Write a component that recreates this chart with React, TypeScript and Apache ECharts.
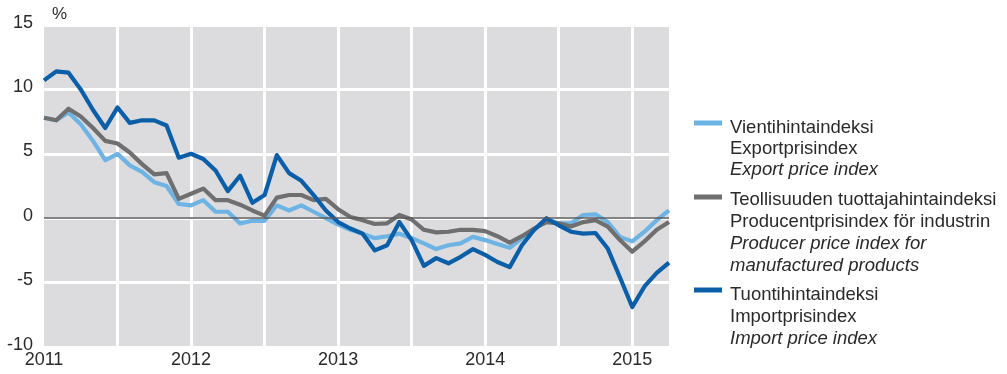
import React, { useEffect, useRef } from "react";
import * as echarts from "echarts";

const years = [2011, 2012, 2013, 2014, 2015];
const monthsPerYear = 12;
const lastYearMonths = 4;

const exportIdx = [
  7.8, 7.6, 8.2, 7.3, 6.0, 4.5, 5.0, 4.1, 3.6, 2.8, 2.5, 1.1,
  1.0, 1.4, 0.5, 0.5, -0.4, -0.2, -0.2, 1.0, 0.6, 1.0, 0.5, 0.0,
  -0.5, -0.9, -1.2, -1.55, -1.4, -1.2, -1.55, -1.95, -2.4, -2.1, -1.95, -1.45,
  -1.7, -2.0, -2.3, -1.55, -0.9, -0.1, -0.4, -0.4, 0.25, 0.3, -0.3, -1.45,
  -1.8, -1.05, -0.15, 0.6,
];
const producerIdx = [
  7.8, 7.6, 8.5, 7.9, 7.0, 6.0, 5.8, 5.1, 4.2, 3.4, 3.5, 1.5,
  1.9, 2.3, 1.4, 1.4, 1.05, 0.6, 0.2, 1.6, 1.8, 1.8, 1.4, 1.5,
  0.7, 0.1, -0.15, -0.45, -0.4, 0.25, -0.1, -0.9, -1.1, -1.05, -0.9, -0.9,
  -1.0, -1.4, -1.9, -1.4, -0.8, -0.3, -0.4, -0.65, -0.3, -0.15, -0.65, -1.7,
  -2.6, -1.8, -0.9, -0.3,
];
const importIdx = [
  10.7, 11.4, 11.3, 10.0, 8.4, 7.0, 8.6, 7.4, 7.6, 7.6, 7.2, 4.7,
  5.0, 4.6, 3.7, 2.1, 3.3, 1.2, 1.8, 4.9, 3.5, 2.9, 1.8, 0.6,
  -0.3, -0.8, -1.2, -2.5, -2.1, -0.3, -1.7, -3.7, -3.1, -3.5, -3.0, -2.4,
  -2.85, -3.4, -3.8, -2.1, -0.9, 0.0, -0.55, -1.05, -1.2, -1.15, -2.35, -4.6,
  -6.9, -5.3, -4.25, -3.45,
];

const yTicks = { min: -10, max: 15, interval: 5 };
const yUnit = "%";

const legendExport = ["Vientihintaindeksi", "Exportprisindex", "Export price index"];
const legendProducer = [
  "Teollisuuden tuottajahintaindeksi",
  "Producentprisindex för industrin",
  "Producer price index for",
  "manufactured products",
];
const legendImport = ["Tuontihintaindeksi", "Importprisindex", "Import price index"];

const COLORS = {
  export: "#6db3e4",
  producer: "#6f6f70",
  import: "#0b5ea8",
  bg: "#dcdcde",
  text: "#2a2a2a",
};

const FONT = "'Liberation Sans', Arial, sans-serif";

function buildCategories(): string[] {
  const cats: string[] = [];
  years.forEach((y, i) => {
    const n = i === years.length - 1 ? lastYearMonths : monthsPerYear;
    for (let m = 1; m <= n; m++) cats.push(`${y}-${String(m).padStart(2, "0")}`);
  });
  return cats;
}

function legendBlock(
  lines: string[],
  italicFrom: number,
  color: string,
  swatchY: number,
  textY: number[]
): any[] {
  const els: any[] = [
    {
      type: "rect",
      shape: { x: 694, y: swatchY - 2.5, width: 28, height: 5 },
      style: { fill: color },
      silent: true,
    },
  ];
  lines.forEach((t, i) => {
    els.push({
      type: "text",
      x: 730,
      y: textY[i],
      style: {
        text: t,
        fill: COLORS.text,
        font: `${i >= italicFrom ? "italic " : ""}18.5px ${FONT}`,
        textVerticalAlign: "middle",
        textAlign: "left",
      },
      silent: true,
    });
  });
  return els;
}

export default function App() {
  const ref = useRef<HTMLDivElement>(null);
  useEffect(() => {
    if (!ref.current) return;
    const chart = echarts.init(ref.current, undefined, { renderer: "svg" });
    const cats = buildCategories();
    const lineSeries = (name: string, data: number[], color: string, extra: any = {}) => ({
      name,
      type: "line",
      data,
      symbol: "none",
      lineStyle: { color, width: 4.2, join: "round" },
      itemStyle: { color },
      ...extra,
    });
    chart.setOption({
      animation: false,
      textStyle: { fontFamily: FONT },
      grid: {
        left: 44,
        right: 338,
        top: 25,
        bottom: 27,
        show: true,
        backgroundColor: COLORS.bg,
        borderWidth: 0,
      },
      xAxis: {
        type: "category",
        data: cats,
        boundaryGap: false,
        axisLine: { show: false },
        axisTick: { show: false },
        axisLabel: {
          interval: (idx: number) => idx % monthsPerYear === 0,
          formatter: (v: string) => v.slice(0, 4),
          color: COLORS.text,
          fontSize: 18,
          margin: 3,
          fontFamily: FONT,
        },
        splitLine: {
          show: true,
          interval: (idx: number) => idx % 6 === 0 && idx > 0,
          lineStyle: { color: "#ffffff", width: 3 },
        },
      },
      yAxis: {
        type: "value",
        min: yTicks.min,
        max: yTicks.max,
        interval: yTicks.interval,
        axisLine: { show: false },
        axisTick: { show: false },
        axisLabel: {
          margin: 11,
          formatter: (v: number) => `{t|${v}}`,
          rich: {
            t: {
              color: COLORS.text,
              fontSize: 18,
              fontFamily: FONT,
              padding: [0, 0, 7, 0],
            },
          },
        },
        splitLine: {
          show: true,
          lineStyle: { color: "#ffffff", width: 3 },
        },
      },
      graphic: [
        {
          type: "text",
          x: 52,
          y: 13,
          style: {
            text: yUnit,
            fill: COLORS.text,
            font: `17px ${FONT}`,
            textVerticalAlign: "middle",
          },
          silent: true,
        },
        ...legendBlock(legendExport, 2, COLORS.export, 123, [126, 147, 168]),
        ...legendBlock(legendProducer, 2, COLORS.producer, 197, [198, 220, 242, 264]),
        ...legendBlock(legendImport, 2, COLORS.import, 290, [293, 315, 337]),
      ],
      series: [
        lineSeries("Export price index", exportIdx, COLORS.export, {
          markLine: {
            silent: true,
            symbol: ["none", "none"],
            label: { show: false },
            lineStyle: { color: "#5a5a5a", width: 1.5, type: "solid" },
            data: [{ yAxis: 0 }],
          },
        }),
        lineSeries("Producer price index", producerIdx, COLORS.producer),
        lineSeries("Import price index", importIdx, COLORS.import),
      ],
    });
    return () => chart.dispose();
  }, []);
  return (
    <div
      ref={ref}
      style={{ position: "fixed", left: 0, top: 0, width: 1007, height: 374 }}
    />
  );
}
